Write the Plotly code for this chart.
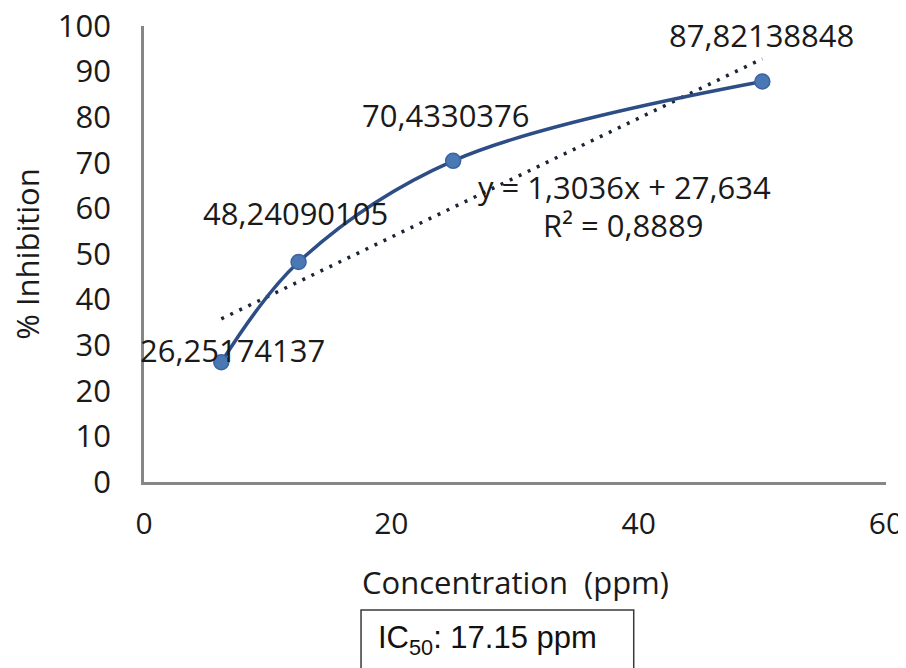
import plotly.graph_objects as go

# Data
concentration = [6.25, 12.5, 25, 50]
inhibition = [26.25174137, 48.24090105, 70.4330376, 87.82138848]
point_labels = ["26,25174137", "48,24090105", "70,4330376", "87,82138848"]
slope = 1.3036
intercept = 27.634
r_squared = "0,8889"
x_ticks = [0, 20, 40, 60]
y_ticks = [0, 10, 20, 30, 40, 50, 60, 70, 80, 90, 100]
ic50_text = "IC<sub>50</sub>: 17.15 ppm"

FONT = "Open Sans"
FS = 31
TXT = "#1a1a1a"

trend_x = [concentration[0], concentration[-1]]
trend_y = [slope * x + intercept for x in trend_x]

fig = go.Figure()
fig.add_trace(go.Scatter(
    x=trend_x, y=trend_y, mode="lines",
    line=dict(color="#1c2535", width=3.5, dash="3px,7px"),
    showlegend=False, hoverinfo="skip"))
fig.add_trace(go.Scatter(
    x=concentration, y=inhibition, mode="lines+markers",
    line=dict(color="#2c4d86", width=3.5, shape="spline", smoothing=1),
    marker=dict(size=15, color="#4a78b5", line=dict(color="#3a63a0", width=1.5)),
    showlegend=False))

# data labels (offsets in pixels)
offsets = [(11, -12), (-3, -49), (-7, -46), (-1, -47)]
for x, y, t, (dx, dy) in zip(concentration, inhibition, point_labels, offsets):
    fig.add_annotation(x=x, y=y, xref="x", yref="y", text=t, showarrow=False,
                       xanchor="center", yanchor="middle",
                       xshift=dx, yshift=-dy, font=dict(family=FONT, size=FS, color=TXT))

def note(x, y, text, **kw):
    fig.add_annotation(x=x, y=y, xref="paper", yref="paper", showarrow=False,
                       xanchor="center", yanchor="middle", text=text, **kw)

# trendline equation
note(0.648, 0.647, f"y = {str(slope).replace('.', ',')}x + {str(intercept).replace('.', ',')}",
     font=dict(family=FONT, size=FS, color=TXT))
note(0.645, 0.5636, f"R² = {r_squared}", font=dict(family=FONT, size=FS, color=TXT))

# axis titles
note(0.5, -0.219, "Concentration  (ppm)", font=dict(family=FONT, size=FS, color=TXT))
note(-0.158, 0.5, "% Inhibition", textangle=-90, font=dict(family=FONT, size=FS, color=TXT))

# IC50 box
fig.add_shape(type="rect", xref="paper", yref="paper",
              x0=0.2925, x1=0.660, y0=-0.50, y1=-0.2807,
              line=dict(color="#3a3a3a", width=1.5), fillcolor="white", layer="below")
note(0.4635, -0.3465, ic50_text, font=dict(family="Liberation Sans", size=31, color="#111111"))

fig.update_xaxes(range=[0, 60], tickvals=x_ticks, showgrid=False, zeroline=False,
                 showline=True, linecolor="#868686", linewidth=2.5, ticks="",
                 ticklabelstandoff=13, automargin=False, ticklabeloverflow="allow",
                 tickfont=dict(family=FONT, size=30, color=TXT))
fig.update_yaxes(range=[0, 100], tickvals=y_ticks, showgrid=False, zeroline=False,
                 showline=True, linecolor="#868686", linewidth=2.5, ticks="",
                 ticklabelstandoff=24, automargin=False, ticklabeloverflow="allow",
                 tickfont=dict(family=FONT, size=FS, color=TXT))

# page body has an 8px default margin; the figure is offset by it, so margins compensate
fig.update_layout(width=906, height=668, margin=dict(l=136, r=28, t=18, b=194, autoexpand=False),
                  plot_bgcolor="white", paper_bgcolor="white")

fig.write_html("out.html")
